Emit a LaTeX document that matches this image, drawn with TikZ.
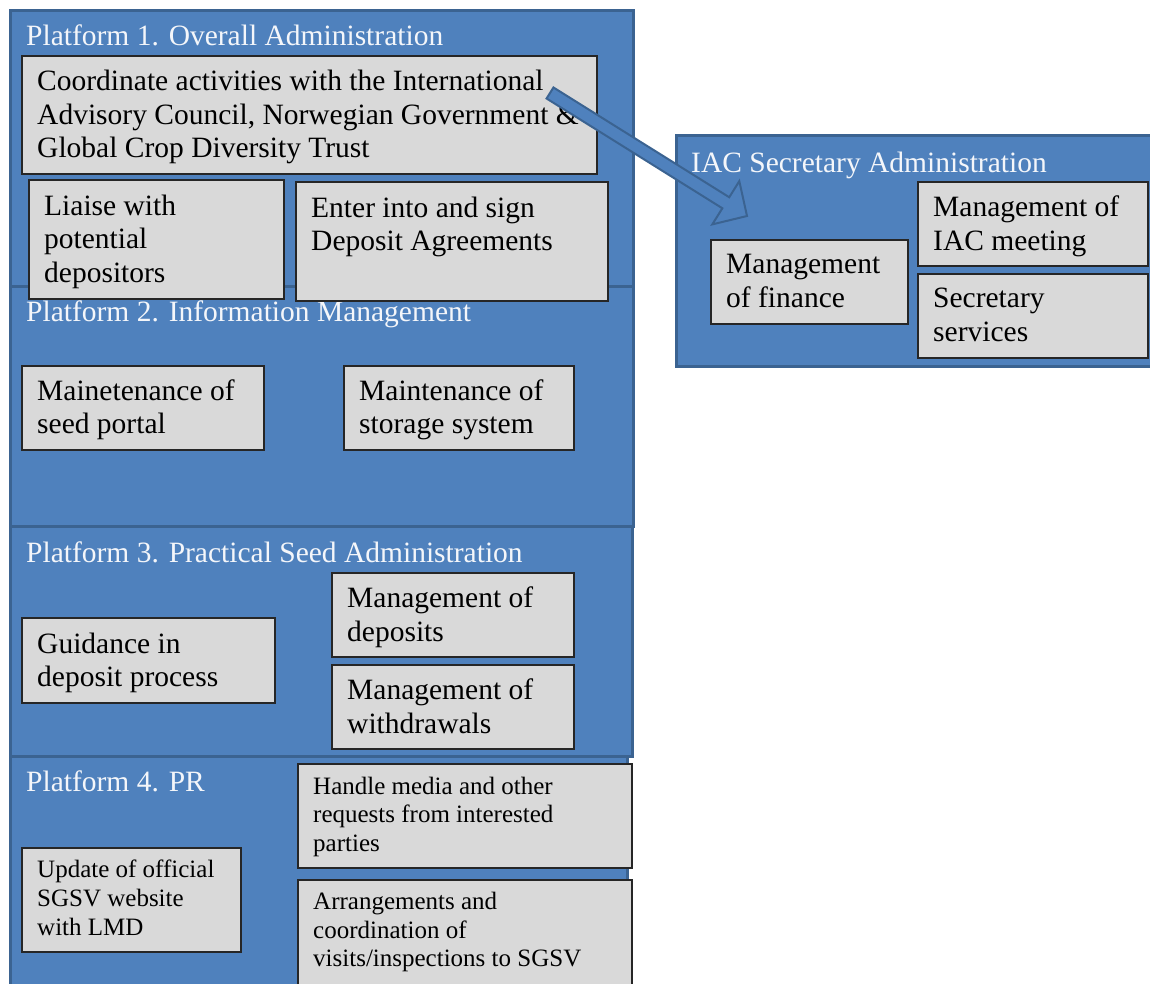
\documentclass[tikz,border=0pt]{standalone}
\usepackage{fontspec}
\setmainfont{Liberation Serif}
\usetikzlibrary{calc}
\definecolor{pblue}{HTML}{4F81BD}
\definecolor{pedge}{HTML}{3B6391}
\definecolor{boxgray}{HTML}{D9D9D9}
\definecolor{titlewhite}{HTML}{F4F6FA}
\tikzset{
  plat/.style={draw=pedge, fill=pblue, line width=2.6pt, anchor=north west, inner sep=0pt},
  gbox/.style={draw=black!85, fill=boxgray, line width=1.6pt, anchor=north west, inner sep=0pt},
  ptitle/.style={text=titlewhite, anchor=base west, inner sep=0pt, font=\fontsize{29.5}{34}\selectfont},
  bigtxt/.style={anchor=north west, inner sep=0pt, align=left, font=\fontsize{29.5}{33.5}\selectfont, execute at begin node=\strut},
  smalltxt/.style={anchor=north west, inner sep=0pt, align=left, font=\fontsize{25}{28.7}\selectfont, execute at begin node=\strut},
  blockarrow/.style={draw=pedge, fill=pblue, line width=2pt, line join=miter}
}
\begin{document}
\begin{tikzpicture}[x=1pt,y=-1pt]
\useasboundingbox (0,0) rectangle (1150,983);
\clip (0,0) rectangle (1150,983);
% platforms
\node[plat, minimum width=623pt, minimum height=276pt] (p1) at (9,9) {};
\node[plat, minimum width=623pt, minimum height=240pt] (p2) at (9,285) {};
\node[plat, minimum width=622pt, minimum height=230pt] (p3) at (9,525) {};
\node[plat, minimum width=617pt, minimum height=245pt] (p4) at (9,755) {};
\node[plat, minimum width=478pt, minimum height=231pt] (iac) at (675,134) {};
% titles
\node[ptitle] (p1t) at (26,45) {Platform 1. Overall Administration};
\node[ptitle] (p2t) at (26,321) {Platform 2. Information Management};
\node[ptitle] (p3t) at (26,562) {Platform 3. Practical Seed Administration};
\node[ptitle] (p4t) at (26,791) {Platform 4. PR};
\node[ptitle] (iact) at (691,172) {IAC Secretary Administration};
% gray boxes
\node[gbox, minimum width=575pt, minimum height=118pt] (coord) at (21,55) {};
\node[gbox, minimum width=255pt, minimum height=119pt] (liaise) at (28,179) {};
\node[gbox, minimum width=312pt, minimum height=119pt] (enter) at (295,181) {};
\node[gbox, minimum width=242pt, minimum height=84pt] (seed) at (21,365) {};
\node[gbox, minimum width=230pt, minimum height=84pt] (store) at (343,365) {};
\node[gbox, minimum width=253pt, minimum height=85pt] (guid) at (21,617) {};
\node[gbox, minimum width=242pt, minimum height=84pt] (dep) at (331,572) {};
\node[gbox, minimum width=242pt, minimum height=84pt] (wdr) at (331,664) {};
\node[gbox, minimum width=197pt, minimum height=84pt] (fin) at (710,239) {};
\node[gbox, minimum width=230pt, minimum height=84pt] (meet) at (917,181) {};
\node[gbox, minimum width=230pt, minimum height=84pt] (secr) at (917,273) {};
\node[gbox, minimum width=334pt, minimum height=104pt] (media) at (297,763) {};
\node[gbox, minimum width=219pt, minimum height=104pt] (upd) at (21,847) {};
\node[gbox, minimum width=334pt, minimum height=115pt] (visit) at (297,879) {};
% texts
\node[bigtxt] (coordt) at ($(coord.north west)+(16,15)$) {Coordinate activities with the International\\Advisory Council, Norwegian Government \&\\Global Crop Diversity Trust};
\node[bigtxt] (liaiset) at ($(liaise.north west)+(16,15.5)$) {Liaise with\\potential\\depositors};
\node[bigtxt] (entert) at ($(enter.north west)+(16,15.5)$) {Enter into and sign\\Deposit Agreements};
\node[bigtxt] (seedt) at ($(seed.north west)+(16,14.5)$) {Mainetenance of\\seed portal};
\node[bigtxt] (storet) at ($(store.north west)+(16,14.5)$) {Maintenance of\\storage system};
\node[bigtxt] (guidt) at ($(guid.north west)+(16,15.5)$) {Guidance in\\deposit process};
\node[bigtxt] (dept) at ($(dep.north west)+(16,15)$) {Management of\\deposits};
\node[bigtxt] (wdrt) at ($(wdr.north west)+(16,15)$) {Management of\\withdrawals};
\node[bigtxt] (fint) at ($(fin.north west)+(16,15)$) {Management\\of finance};
\node[bigtxt] (meett) at ($(meet.north west)+(16,15)$) {Management of\\IAC meeting};
\node[bigtxt] (secrt) at ($(secr.north west)+(16,15)$) {Secretary\\services};
\node[smalltxt] (mediat) at ($(media.north west)+(16,13.5)$) {Handle media and other\\requests from interested\\parties};
\node[smalltxt] (updt) at ($(upd.north west)+(16,13)$) {Update of official\\SGSV website\\with LMD};
\node[smalltxt] (visitt) at ($(visit.north west)+(16,13)$) {Arrangements and\\coordination of\\visits/inspections to SGSV};
% block arrow
\coordinate (arrS) at (550,93);
\coordinate (arrT) at (747,216);
\coordinate (arrB) at ($(arrT)!25pt!(arrS)$);
\draw[blockarrow]
  ($(arrS)!6.5pt!90:(arrT)$) -- ($(arrB)!6.5pt!-90:(arrS)$) -- ($(arrB)!25.5pt!-90:(arrS)$)
  -- (arrT) -- ($(arrB)!25.5pt!90:(arrS)$) -- ($(arrB)!6.5pt!90:(arrS)$)
  -- ($(arrS)!6.5pt!-90:(arrT)$) -- cycle;
\end{tikzpicture}
\end{document}
